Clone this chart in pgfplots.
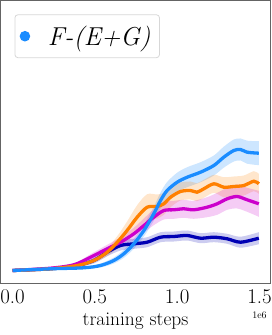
\documentclass[border=0pt]{standalone}
\usepackage{pgfplots}
\pgfplotsset{compat=1.18}
\usepackage{pgfplotstable}
\usepgfplotslibrary{fillbetween}
\definecolor{blueC}{RGB}{26,140,255}
\definecolor{orangeC}{RGB}{255,128,0}
\definecolor{magC}{RGB}{204,0,204}
\definecolor{navyC}{RGB}{0,0,180}
\definecolor{frameC}{RGB}{100,100,100}
\definecolor{legC}{RGB}{215,215,215}

\pgfplotstableread{
x y e
0 0 0.3
0.231 1.7 0.5
0.433 2.7 1
0.534 5 2
0.615 10 3
0.676 16.7 4
0.737 26.7 5
0.798 40 6
0.858 56.7 7
0.899 70 8
0.939 80 8.5
1.0 88.3 9.5
1.061 93.3 10
1.142 98.3 10
1.223 105 10
1.283 113.3 10.5
1.344 120 11
1.385 121 11
1.425 118.3 11.5
1.496 117.3 12
}\blueT

\pgfplotstableread{
x y e
0 0 0.3
0.231 1.7 0.5
0.393 5 1
0.494 10 2
0.575 18.3 4
0.636 28.3 6
0.696 40 9
0.757 53.3 12
0.818 63.3 13
0.879 64 12
0.919 66.7 11
0.960 73.3 10
1.020 79 9
1.081 80 9
1.121 78.3 9
1.162 81.7 9
1.223 86.7 9
1.283 83.3 10
1.344 84 10
1.405 85 10
1.466 89.3 10
1.496 86.7 10
}\orangeT

\pgfplotstableread{
x y e
0 0 0.3
0.231 2.3 0.5
0.372 5.7 1
0.474 13.3 3
0.575 21.7 4
0.656 28.3 5
0.737 36.7 6
0.798 45 7
0.858 53.3 8
0.919 60 9
0.980 60.7 9
1.040 61.7 9
1.101 60.7 9
1.182 63.3 10
1.243 66.7 11
1.304 71.7 11
1.364 74 12
1.425 70.7 12
1.496 66.7 13
}\magT

\pgfplotstableread{
x y e
0 0 0.3
0.231 1.7 0.5
0.393 5 1.5
0.494 10 3
0.575 18.3 4
0.656 25 5
0.737 26.7 5
0.818 28.3 5
0.899 33.3 5
0.980 34 5
1.061 35 5
1.142 32.3 5
1.223 33.3 5
1.304 31.7 5
1.385 28.3 5.5
1.496 32.3 6
}\navyT

\begin{document}
\begin{tikzpicture}
\begin{axis}[
  scale only axis,
  width=270bp, height=283bp,
  xmin=-0.073, xmax=1.567,
  ymin=-13, ymax=270,
  axis line style={frameC, line width=0.8pt},
  xtick={0,0.5,1.0,1.5},
  xticklabels={0.0,0.5,1.0,1.5},
  ytick=\empty,
  major tick length=0pt,
  xticklabel style={font=\fontsize{21}{24}\selectfont, yshift=-2.5bp},
  xlabel={training steps},
  xlabel style={font=\fontsize{19.5}{22}\selectfont, at={(axis description cs:0.5,0)}, anchor=base, yshift=-42bp},
  legend style={at={(axis description cs:0.052,0.951)}, anchor=north west,
    draw=legC, line width=0.8pt, rounded corners=3pt, font=\fontsize{26}{30}\selectfont\itshape,
    inner xsep=4bp, inner ysep=9bp, nodes={inner xsep=5bp}},
  legend image code/.code={\path[draw=none,fill=none] (0bp,-5bp) rectangle (24bp,5bp); \fill[blueC,draw=none] (6bp,0bp) circle (5.3bp);},
  clip=false,
]
% bands
\addplot[name path=bu, draw=none, forget plot, smooth] table[x=x, y expr=\thisrow{y}+\thisrow{e}] {\blueT};
\addplot[name path=bl, draw=none, forget plot, smooth] table[x=x, y expr=\thisrow{y}-\thisrow{e}] {\blueT};
\addplot[blueC, fill opacity=0.22, forget plot] fill between[of=bu and bl];
\addplot[name path=ou, draw=none, forget plot, smooth] table[x=x, y expr=\thisrow{y}+\thisrow{e}] {\orangeT};
\addplot[name path=ol, draw=none, forget plot, smooth] table[x=x, y expr=\thisrow{y}-\thisrow{e}] {\orangeT};
\addplot[orangeC, fill opacity=0.2, forget plot] fill between[of=ou and ol];
\addplot[name path=mu, draw=none, forget plot, smooth] table[x=x, y expr=\thisrow{y}+\thisrow{e}] {\magT};
\addplot[name path=ml, draw=none, forget plot, smooth] table[x=x, y expr=\thisrow{y}-\thisrow{e}] {\magT};
\addplot[magC, fill opacity=0.2, forget plot] fill between[of=mu and ml];
\addplot[name path=nu, draw=none, forget plot, smooth] table[x=x, y expr=\thisrow{y}+\thisrow{e}] {\navyT};
\addplot[name path=nl, draw=none, forget plot, smooth] table[x=x, y expr=\thisrow{y}-\thisrow{e}] {\navyT};
\addplot[navyC, fill opacity=0.2, forget plot] fill between[of=nu and nl];
% lines
\addplot[navyC, line width=3.3pt, smooth, forget plot] table[x=x,y=y] {\navyT};
\addplot[magC, line width=3.3pt, smooth, forget plot] table[x=x,y=y] {\magT};
\addplot[orangeC, line width=3.3pt, smooth, forget plot] table[x=x,y=y] {\orangeT};
\addplot[blueC, line width=3.3pt, smooth] table[x=x,y=y] {\blueT};
\addlegendentry{F-(E+G)}
\node[font=\fontsize{10}{12}\selectfont, anchor=center] at ([xshift=-11bp,yshift=-32bp]axis description cs:1,0) {1e6};
\end{axis}
\pgfresetboundingbox
\path (-0.5bp,-51.5bp) rectangle (271.5bp,283.5bp);
\end{tikzpicture}
\end{document}
